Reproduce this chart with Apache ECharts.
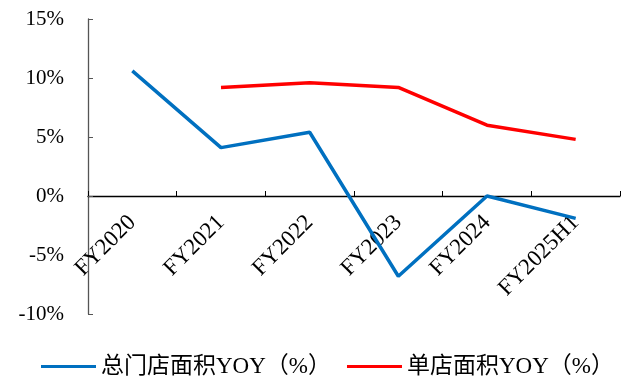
<!DOCTYPE html>
<html>
<head>
<meta charset="utf-8">
<script src="https://cdn.jsdelivr.net/npm/echarts@6/dist/echarts.min.js"></script>
<style>
  html, body { margin: 0; padding: 0; background: #fff; }
  #chart { width: 632px; height: 376px; }
</style>
</head>
<body>
<div id="chart"></div>
<script>
// Fiscal periods on the category axis
const categories = ['FY2020', 'FY2021', 'FY2022', 'FY2023', 'FY2024', 'FY2025H1'];
// Total store area, year-on-year growth (%)
const totalAreaYoY = [10.6, 4.1, 5.4, -6.8, 0.0, -1.9];
// Average area per store, year-on-year growth (%)
const perStoreAreaYoY = [null, 9.2, 9.6, 9.2, 6.0, 4.8];
// Series names shown in the legend
const seriesNames = ['总门店面积YOY（%）', '单店面积YOY（%）'];

const serif = '"Liberation Serif", "Times New Roman", "Noto Sans CJK SC", serif';

// Plot box and value range; the category axis is drawn through the zero line
const plotTop = 19, plotBottom = 62, chartHeight = 376;
const yMin = -10, yMax = 15;
const plotHeight = chartHeight - plotTop - plotBottom;
const zeroOffset = -plotHeight * (0 - yMin) / (yMax - yMin);

const chart = echarts.init(document.getElementById('chart'));
chart.setOption({
  animation: false,
  backgroundColor: '#ffffff',
  grid: { left: 88, right: 12, top: plotTop, bottom: plotBottom, outerBoundsMode: 'none', containLabel: false },
  legend: {
    top: 350,
    left: 36,
    itemGap: 16,
    itemWidth: 55,
    itemHeight: 3,
    icon: 'rect',
    textStyle: { fontFamily: serif, fontSize: 23, color: '#000' },
    data: seriesNames
  },
  xAxis: {
    type: 'category',
    data: categories,
    boundaryGap: true,
    position: 'bottom',
    offset: zeroOffset,
    axisLine: { onZero: false, lineStyle: { color: '#000', width: 1.3 } },
    axisTick: { show: true, inside: true, length: 5, alignWithLabel: false, lineStyle: { color: '#000' } },
    axisLabel: {
      rotate: 45,
      margin: 23,
      fontFamily: serif,
      fontSize: 23,
      color: '#000'
    },
    splitLine: { show: false }
  },
  yAxis: {
    type: 'value',
    min: yMin,
    max: yMax,
    interval: 5,
    axisLine: { show: true, lineStyle: { color: '#555', width: 1.3 } },
    axisTick: { show: true, inside: true, length: 5, lineStyle: { color: '#555' } },
    axisLabel: {
      formatter: '{value}%',
      margin: 24,
      fontFamily: serif,
      fontSize: 21,
      color: '#000'
    },
    splitLine: { show: false }
  },
  series: [
    {
      name: seriesNames[0],
      type: 'line',
      data: totalAreaYoY,
      showSymbol: false,
      symbol: 'none',
      lineStyle: { color: '#0070C0', width: 3.5 },
      itemStyle: { color: '#0070C0' }
    },
    {
      name: seriesNames[1],
      type: 'line',
      data: perStoreAreaYoY,
      showSymbol: false,
      symbol: 'none',
      lineStyle: { color: '#FF0000', width: 3.5 },
      itemStyle: { color: '#FF0000' }
    }
  ]
});
</script>
</body>
</html>
